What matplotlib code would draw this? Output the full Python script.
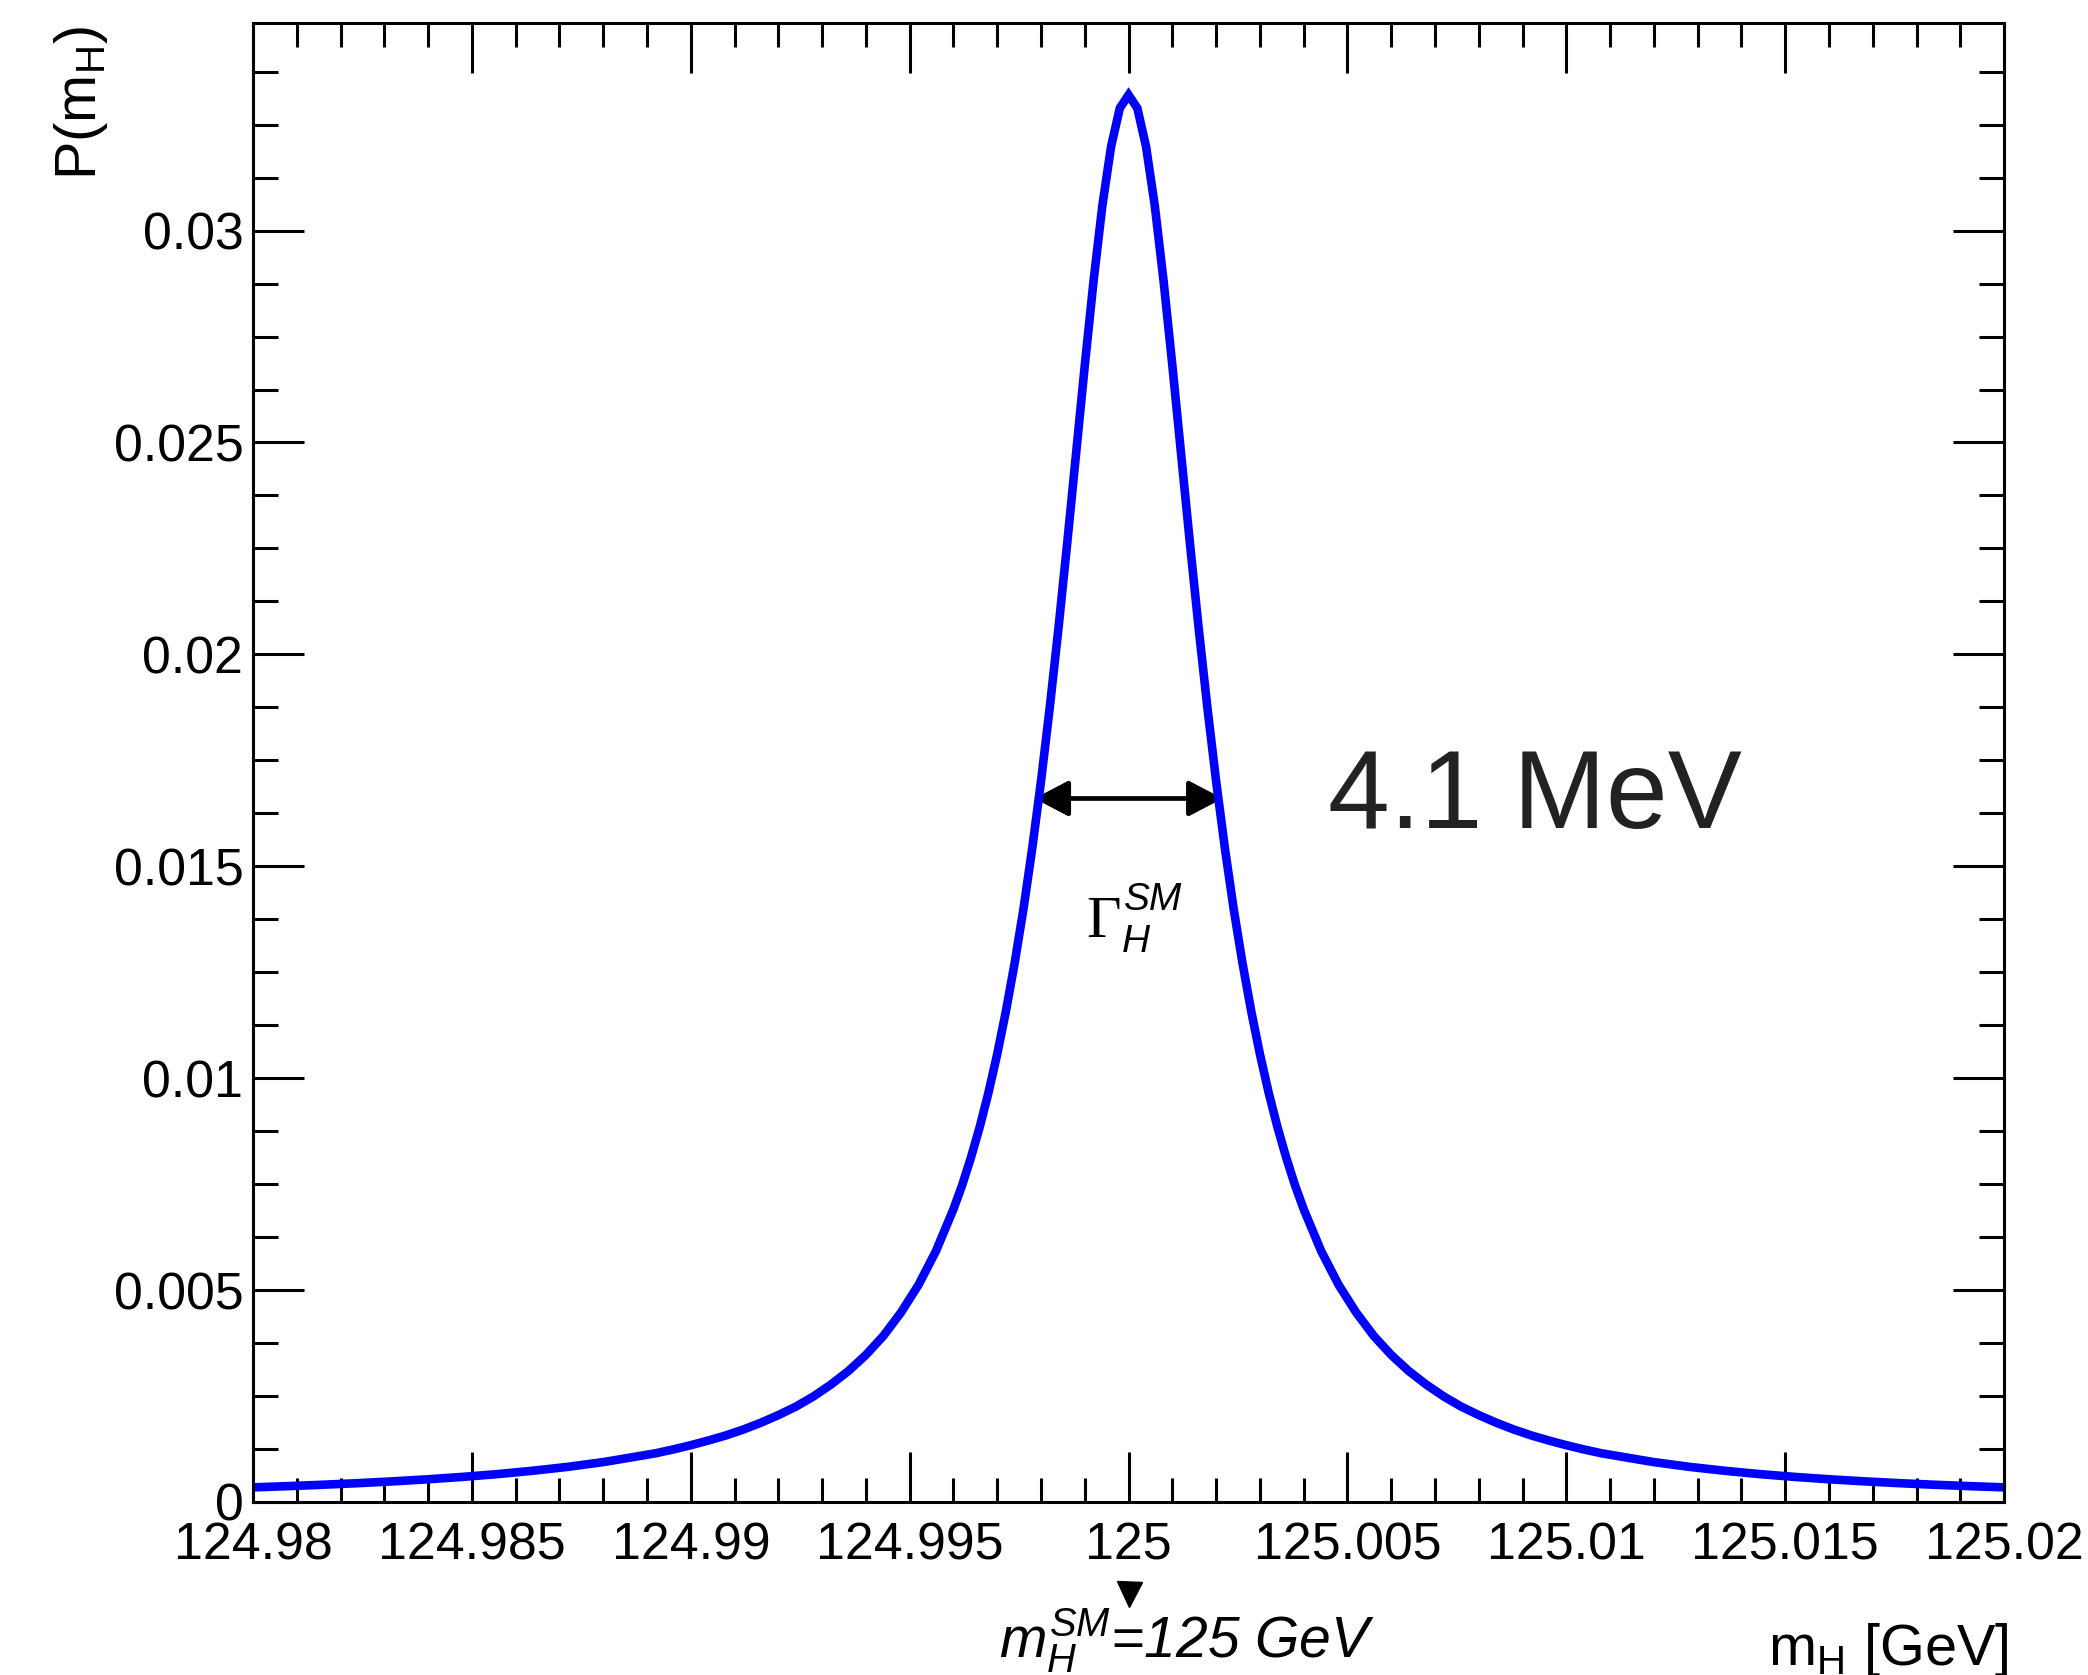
import matplotlib
matplotlib.use("Agg")
import matplotlib.pyplot as plt
from matplotlib.ticker import FixedLocator, FixedFormatter, MultipleLocator
from matplotlib.patches import FancyArrowPatch

plt.rcParams['font.family'] = ['Liberation Sans', 'DejaVu Sans']
plt.rcParams['mathtext.fontset'] = 'custom'
plt.rcParams['mathtext.rm'] = 'Liberation Sans'
plt.rcParams['mathtext.it'] = 'Liberation Sans:italic'
plt.rcParams['mathtext.sf'] = 'Liberation Sans'

# curve: offset from 125 GeV (in MeV) and P(m_H)
offset_mev = [-20.0, -19.2, -18.4, -17.6, -16.8, -16.0, -15.2, -14.4, -13.6, -12.8,
              -12.0, -11.6, -11.2, -10.8, -10.4, -10.0, -9.6, -9.2, -8.8, -8.4,
              -8.0, -7.6, -7.2, -6.8, -6.4, -6.0, -5.6, -5.2, -4.8, -4.4,
              -4.0, -3.8, -3.6, -3.4, -3.2, -3.0, -2.8, -2.6, -2.4, -2.2,
              -2.0, -1.8, -1.6, -1.4, -1.2, -1.0, -0.8, -0.6, -0.4, -0.2,
              0.0,
              0.2, 0.4, 0.6, 0.8, 1.0, 1.2, 1.4, 1.6, 1.8, 2.0,
              2.2, 2.4, 2.6, 2.8, 3.0, 3.2, 3.4, 3.6, 3.8, 4.0,
              4.4, 4.8, 5.2, 5.6, 6.0, 6.4, 6.8, 7.2, 7.6, 8.0,
              8.4, 8.8, 9.2, 9.6, 10.0, 10.4, 10.8, 11.2, 11.6, 12.0,
              12.8, 13.6, 14.4, 15.2, 16.0, 16.8, 17.6, 18.4, 19.2, 20.0]
prob = [0.000345, 0.000374, 0.000407, 0.000444, 0.000487, 0.000536, 0.000593, 0.000659, 0.000738, 0.000830,
        0.000941, 0.00101, 0.00108, 0.00115, 0.00124, 0.00134, 0.00145, 0.00157, 0.00171, 0.00187,
        0.00205, 0.00225, 0.00249, 0.00277, 0.00309, 0.00347, 0.00392, 0.00447, 0.00512, 0.00592,
        0.00691, 0.00748, 0.00813, 0.00885, 0.00966, 0.01057, 0.01159, 0.01273, 0.01400, 0.01543,
        0.01701, 0.01875, 0.02063, 0.02264, 0.02473, 0.02682, 0.02881, 0.03058, 0.03198, 0.03289,
        0.0332,
        0.03289, 0.03198, 0.03058, 0.02881, 0.02682, 0.02473, 0.02264, 0.02063, 0.01875, 0.01701,
        0.01543, 0.01400, 0.01273, 0.01159, 0.01057, 0.00966, 0.00885, 0.00813, 0.00748, 0.00691,
        0.00592, 0.00512, 0.00447, 0.00392, 0.00347, 0.00309, 0.00277, 0.00249, 0.00225, 0.00205,
        0.00187, 0.00171, 0.00157, 0.00145, 0.00134, 0.00124, 0.00115, 0.00108, 0.00101, 0.000941,
        0.000830, 0.000738, 0.000659, 0.000593, 0.000536, 0.000487, 0.000444, 0.000407, 0.000374, 0.000345]
mass = [125.0 + d / 1000.0 for d in offset_mev]

x_ticks = [124.98, 124.985, 124.99, 124.995, 125.0, 125.005, 125.01, 125.015, 125.02]
x_labels = ["124.98", "124.985", "124.99", "124.995", "125", "125.005", "125.01", "125.015", "125.02"]
y_ticks = [0.0, 0.005, 0.01, 0.015, 0.02, 0.025, 0.03]
y_labels = ["0", "0.005", "0.01", "0.015", "0.02", "0.025", "0.03"]

width_lo, width_hi = 124.99785, 125.00215
half_max = 0.0166
width_text = "4.1 MeV"

fig = plt.figure(figsize=(20.88, 16.75), dpi=100)
ax = fig.add_axes([0.1212, 0.1033, 0.8386, 0.8830])

ax.plot(mass, prob, color='#0000ff', lw=6.2, solid_joinstyle='miter')
ax.set_xlim(124.98, 125.02)
ax.set_ylim(0, 0.0349)

for sp in ax.spines.values():
    sp.set_linewidth(2.2)

ax.xaxis.set_major_locator(FixedLocator(x_ticks))
ax.xaxis.set_major_formatter(FixedFormatter(x_labels))
ax.xaxis.set_minor_locator(MultipleLocator(0.001))
ax.yaxis.set_major_locator(FixedLocator(y_ticks))
ax.yaxis.set_major_formatter(FixedFormatter(y_labels))
ax.yaxis.set_minor_locator(MultipleLocator(0.00125))

ax.tick_params(which='both', direction='in', top=True, right=True, width=2.2,
               labelsize=37.4, colors='black')
ax.tick_params(axis='x', which='major', length=36, pad=14)
ax.tick_params(axis='x', which='minor', length=17)
ax.tick_params(axis='y', which='major', length=37, pad=7)
ax.tick_params(axis='y', which='minor', length=18)

# width arrow + labels
arr = FancyArrowPatch((width_lo, half_max), (width_hi, half_max),
                      arrowstyle='<|-|>,head_length=21,head_width=11',
                      mutation_scale=1, color='black', lw=3.4, shrinkA=0, shrinkB=0)
ax.add_patch(arr)
ax.text(125.00455, 0.0159, width_text, fontsize=80, color='#222222',
        ha='left', va='baseline')
ax.text(124.99903, 0.01333, '\u0393', fontsize=43, family='Liberation Serif',
        ha='left', va='baseline')
ax.text(124.99990, 0.01397, 'SM', fontsize=28, style='italic',
        ha='left', va='baseline')
ax.text(124.99985, 0.01298, 'H', fontsize=28, style='italic',
        ha='left', va='baseline')

# marker for the SM mass below the axis
ax.plot([125.0], [-0.062], marker='v', markersize=18, color='black',
        clip_on=False, transform=ax.get_xaxis_transform())
fig.text(0.4785, 0.010, r'$m_{H}^{SM}$=125 GeV', fontsize=41, style='italic',
         ha='left', va='baseline')

fig.text(0.9617, 0.006, r'm$_{\mathsf{H}}$ [GeV]', fontsize=41.5,
         ha='right', va='baseline')
fig.text(0.0249, 0.985, r'P(m$_{\mathsf{H}}$)', fontsize=41.5,
         rotation=90, ha='left', va='top')

fig.savefig('out.png', dpi=100)
